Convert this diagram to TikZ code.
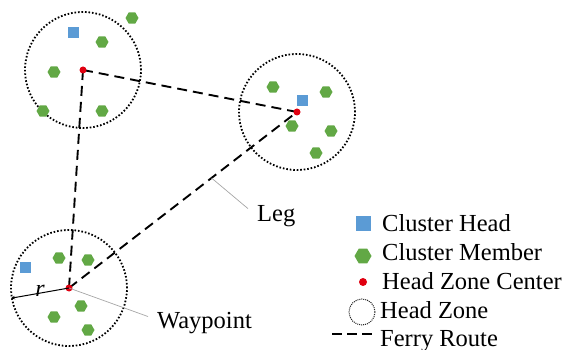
\documentclass[tikz,border=0pt]{standalone}
\usepackage{fontspec}
\setmainfont{Liberation Serif}
\usetikzlibrary{shapes.geometric,calc,arrows.meta}
\definecolor{chblue}{HTML}{5B9BD5}
\definecolor{cmgreen}{HTML}{62A845}
\definecolor{hzred}{HTML}{E00010}
\tikzset{
  chead/.style={rectangle,fill=chblue,inner sep=0pt,minimum size=#1},
  chead/.default=11pt,
  cmem/.style={regular polygon,regular polygon sides=6,fill=cmgreen,inner sep=0pt,minimum size=#1},
  cmem/.default=13pt,
  hzc/.style={circle,fill=hzred,inner sep=0pt,minimum size=#1},
  hzc/.default=7pt,
  hzone/.style={circle,draw=black,line width=1.8pt,dash pattern=on 1.6pt off 1.9pt,inner sep=0pt,minimum size=#1},
  hzone/.default=116pt,
  route/.style={line width=1.9pt,dash pattern=on 10pt off 6pt},
  pointer/.style={draw=gray!70,line width=0.7pt},
  lbl/.style={font=\fontsize{24.5}{28}\selectfont,inner sep=0pt,anchor=base west},
}
\begin{document}
\begin{tikzpicture}[x=1pt,y=-1pt]
\useasboundingbox (0,0) rectangle (563,350);
% head zones
\node[hzone] (z1) at (83,70) {};
\node[hzone] (z2) at (297,112) {};
\node[hzone] (z3) at (69,288) {};
% cluster heads
\node[chead] (h1) at (73,33) {};
\node[chead] (h2) at (302,101) {};
\node[chead] (h3) at (25,268) {};
% cluster members
\node[cmem] (m11) at (132,18) {};
\node[cmem] (m12) at (102,42) {};
\node[cmem] (m13) at (54,72) {};
\node[cmem] (m14) at (43,111) {};
\node[cmem] (m15) at (102,111) {};
\node[cmem] (m21) at (273,87) {};
\node[cmem] (m22) at (326,92) {};
\node[cmem] (m23) at (292,126) {};
\node[cmem] (m24) at (331,131) {};
\node[cmem] (m25) at (316,153) {};
\node[cmem] (m31) at (59,258) {};
\node[cmem] (m32) at (88,260) {};
\node[cmem] (m33) at (81,306) {};
\node[cmem] (m34) at (54,317) {};
\node[cmem] (m35) at (88,330) {};
% routes
\draw[route] (83,70) coordinate (p1) -- (297,112) coordinate (p2);
\draw[route] (p1) -- (69,288) coordinate (p3);
\draw[route] (p3) -- (p2);
% centers
\node[hzc] (c1) at (p1) {};
\node[hzc] (c2) at (p2) {};
\node[hzc] (c3) at (p3) {};
% radius
\draw[line width=1pt,{Stealth[length=4pt,width=3.5pt]}-] (z3.190) -- (c3.center);
\node[font=\fontsize{24}{26}\selectfont\itshape,inner sep=0pt] (rl) at (40,291) {r};
% leg
\coordinate (legpt) at ($(p3)!0.625!(p2)$);
\node[lbl] (leg) at (257,222) {Leg};
\draw[pointer] (legpt) -- ([xshift=-9pt,yshift=8pt]leg.west);
% waypoint
\node[lbl] (wp) at (157,328) {Waypoint};
\draw[pointer] (c3.center) -- ([xshift=-9pt,yshift=6pt]wp.west);
% legend
\node[chead=15pt] (lh) at (363,224) {};
\node[lbl] (lht) at (382,232) {Cluster Head};
\node[cmem=17pt] (lm) at (363,256) {};
\node[lbl] (lmt) at (382,261) {Cluster Member};
\node[hzc=8pt] (lc) at (363,282) {};
\node[lbl] (lct) at (382,290) {Head Zone Center};
\node[circle,draw=black!85,line width=1pt,dash pattern=on 1pt off 1pt,inner sep=0pt,minimum size=26pt] (lz) at (362,312) {};
\node[lbl] (lzt) at (380,318) {Head Zone};
\coordinate (lr1) at (332,334);
\coordinate (lr2) at (373,334);
\draw[line width=1.8pt,dash pattern=on 10pt off 5pt] (lr1) -- (lr2);
\node[lbl] (lrt) at (380,346) {Ferry Route};
\end{tikzpicture}
\end{document}
